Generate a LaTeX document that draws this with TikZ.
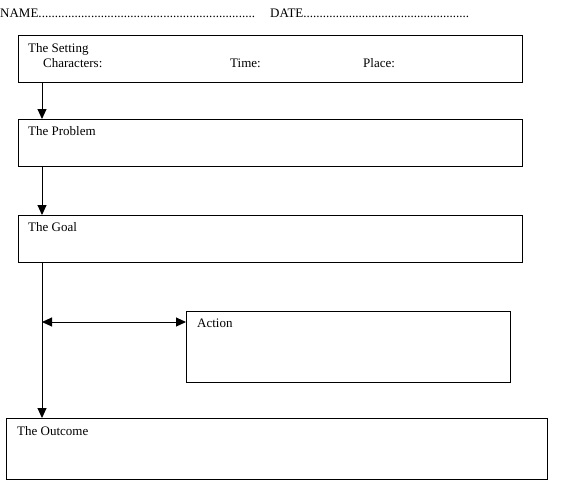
\documentclass[tikz,border=0pt]{standalone}
\usepackage{fontspec}
\setmainfont{Liberation Serif}
\usetikzlibrary{arrows.meta}
\newcommand{\dotline}[2]{\makebox[#1][l]{#2\xleaders\hbox{.}\hfill}}
\begin{document}
\begin{tikzpicture}[x=1pt,y=-1pt,
  box/.style={draw, line width=1pt, rectangle, anchor=north west, inner sep=0pt},
  lbl/.style={anchor=base west, inner sep=0pt, font=\fontsize{13}{15}\selectfont},
  arr/.style={line width=1pt, -{Triangle[length=10pt,width=9pt]}},
  darr/.style={line width=1pt, {Triangle[length=10pt,width=9pt]}-{Triangle[length=10pt,width=9pt]}}]
\useasboundingbox (0,0) rectangle (569,488);
% header
\node[lbl] (name) at (0,17){\dotline{255pt}{NAME}};
\node[lbl] (date) at (270,17){\dotline{199pt}{DATE}};
% boxes
\node[box, minimum width=504pt, minimum height=47pt] (setting) at (18,35){};
\node[box, minimum width=504pt, minimum height=47pt] (problem) at (18,119){};
\node[box, minimum width=504pt, minimum height=47pt] (goal) at (18,215){};
\node[box, minimum width=324pt, minimum height=71pt] (action) at (186,311){};
\node[box, minimum width=541pt, minimum height=61pt] (outcome) at (6,418){};
% labels
\node[lbl] (settingtxt) at (28,52){The Setting};
\node[lbl] (chartxt) at (43,67){Characters:};
\node[lbl] (timetxt) at (230,67){Time:};
\node[lbl] (placetxt) at (363,67){Place:};
\node[lbl] (problemtxt) at (28,135){The Problem};
\node[lbl] (goaltxt) at (28,231){The Goal};
\node[lbl] (actiontxt) at (197,327){Action};
\node[lbl] (outcometxt) at (17,435){The Outcome};
% connectors
\coordinate (spine) at (42,0);
\coordinate (fork) at (42,322);
\draw[arr] (setting.south -| spine) -- (problem.north -| spine);
\draw[arr] (problem.south -| spine) -- (goal.north -| spine);
\draw[arr] (goal.south -| spine) -- (outcome.north -| spine);
\draw[darr] (fork) -- (fork -| action.west);
\end{tikzpicture}
\end{document}
